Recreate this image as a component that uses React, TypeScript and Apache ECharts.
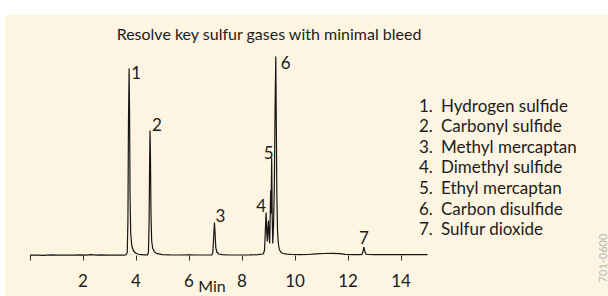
import React, { useEffect, useRef } from 'react';
import * as echarts from 'echarts';

// ---- data ----
const titleText = 'Resolve key sulfur gases with minimal bleed';
const axisTitle = 'Min';
const tickValues = [0, 2, 4, 6, 8, 10, 12, 14];
const tickLabelValues = [2, 4, 6, 8, 10, 12, 14];
const compoundNames = [
  'Hydrogen sulfide',
  'Carbonyl sulfide',
  'Methyl mercaptan',
  'Dimethyl sulfide',
  'Ethyl mercaptan',
  'Carbon disulfide',
  'Sulfur dioxide',
];
const peakIds = ['1', '2', '3', '4', '5', '6', '7'];
const peakTimes = [3.74, 4.53, 6.96, 8.91, 9.12, 9.275, 12.6];
const peakHeights = [187, 125, 33, 43, 98, 199, 8.5];
const catalogCode = '701-0600';

// detector signal: [minutes, response]
const signal: [number, number][] = [
  [0, 0.3], [0.3, 0.4], [0.5, 0.2], [0.8, 0.6], [1.0, 0.3], [1.3, 0.5], [1.6, 0.3],
  [1.9, 0.7], [2.1, 0.4], [2.3, 0.8], [2.5, 0.4], [2.7, 0.6], [2.9, 0.3], [3.2, 0.4],
  [3.5, 0.3],
  // peak 1
  [3.62, 0.6], [3.67, 3], [3.695, 35], [3.715, 130], [3.74, 187], [3.755, 150],
  [3.775, 60], [3.8, 22], [3.84, 10], [3.9, 5], [3.98, 2.5], [4.1, 1.2], [4.3, 0.6],
  // peak 2
  [4.43, 0.6], [4.47, 3], [4.495, 35], [4.515, 95], [4.53, 125], [4.545, 100],
  [4.565, 42], [4.59, 15], [4.63, 7], [4.7, 3.5], [4.8, 1.8], [5.0, 0.9], [5.3, 0.6],
  [5.6, 0.5], [6.0, 0.7], [6.3, 0.5], [6.6, 0.5],
  // peak 3
  [6.86, 0.6], [6.9, 3], [6.93, 18], [6.96, 33], [6.985, 22], [7.01, 8], [7.05, 3.5],
  [7.12, 1.5], [7.25, 0.8], [7.5, 0.5], [7.9, 0.5], [8.3, 0.6], [8.6, 0.8],
  // cluster 4, 5, 6
  [8.8, 1.5], [8.85, 5], [8.88, 25], [8.91, 43], [8.935, 22], [8.955, 14],
  [8.98, 28], [9.0, 35], [9.025, 18], [9.045, 12], [9.065, 40], [9.08, 65],
  [9.095, 42], [9.12, 98], [9.14, 40], [9.16, 12], [9.19, 30], [9.22, 70],
  [9.25, 150], [9.275, 199], [9.295, 130], [9.315, 60], [9.34, 25], [9.37, 12],
  [9.41, 6], [9.47, 3], [9.55, 2], [9.7, 1.3], [9.9, 1], [10.2, 0.8], [10.5, 1],
  [10.8, 1.6], [11.1, 2], [11.4, 2.2], [11.7, 1.8], [11.9, 1.2], [12.2, 0.8],
  [12.45, 0.9],
  // peak 7
  [12.53, 1.2], [12.57, 4.5], [12.6, 8.5], [12.63, 4.5], [12.67, 1.5], [12.75, 1],
  [13.0, 0.9], [13.4, 0.8], [13.8, 0.9], [14.2, 0.8], [14.6, 0.9], [15.0, 0.8],
];

// ---- styling (positions and sizes) ----
const FONT = 'Lato, "Open Sans", "Noto Sans", sans-serif';
const TEXT = '#1c1c1c';
const peakLabelOffsets: [number, number][] = [
  [7, 3.5], [7, -6], [6, -7], [-5, -7], [-3, -5], [10, 6], [0, -10],
];

export default function App() {
  const ref = useRef<HTMLDivElement>(null);

  useEffect(() => {
    if (!ref.current) return;
    const chart = echarts.init(ref.current, undefined, { renderer: 'svg' });

    const legendGraphics: any[] = [];
    compoundNames.forEach((name, i) => {
      const y = 105 + i * 20.6;
      legendGraphics.push({
        type: 'text', x: 419, y,
        style: { text: peakIds[i] + '.', font: `17px ${FONT}`, fill: TEXT, textVerticalAlign: 'middle' },
      });
      legendGraphics.push({
        type: 'text', x: 441, y,
        style: { text: name, font: `17px ${FONT}`, fill: TEXT, textVerticalAlign: 'middle' },
      });
    });

    chart.setOption({
      animation: false,
      grid: { left: 30, right: 180.5, top: 55.5, bottom: 40.5, containLabel: false },
      xAxis: {
        type: 'value',
        min: 0,
        max: 15,
        offset: 7,
        axisLine: { show: false },
        splitLine: { show: false },
        axisTick: { show: true, length: 5, customValues: tickValues, lineStyle: { color: '#333', width: 1 } },
        axisLabel: {
          customValues: tickLabelValues,
          fontSize: 17,
          fontFamily: FONT,
          color: TEXT,
          margin: 9,
        },
      },
      yAxis: {
        type: 'value',
        min: 0,
        max: 200,
        show: false,
      },
      graphic: [
        { type: 'rect', z: -10, shape: { x: 5, y: 15, width: 603, height: 281 }, style: { fill: '#fdf5e1' } },
        {
          type: 'text', x: 269, y: 33,
          style: { text: titleText, font: `16px ${FONT}`, fill: TEXT, textAlign: 'center', textVerticalAlign: 'middle' },
        },
        {
          type: 'text', x: 212, y: 285,
          style: { text: axisTitle, font: `16px ${FONT}`, fill: TEXT, textAlign: 'center', textVerticalAlign: 'middle' },
        },
        {
          type: 'text', x: 602, y: 258, rotation: Math.PI / 2,
          style: { text: catalogCode, font: `11px ${FONT}`, fill: '#b8b8b8', textAlign: 'center', textVerticalAlign: 'middle' },
        },
        ...legendGraphics,
      ],
      series: [
        {
          type: 'line',
          data: signal,
          showSymbol: false,
          symbol: 'none',
          lineStyle: { color: '#161616', width: 1.2 },
          z: 2,
        },
        {
          type: 'scatter',
          symbolSize: 0,
          z: 3,
          itemStyle: { color: TEXT, opacity: 1 },
          data: peakTimes.map((t, i) => ({
            value: [t, peakHeights[i]],
            name: peakIds[i],
            label: { offset: peakLabelOffsets[i] },
          })),
          label: {
            show: true,
            position: 'inside',
            formatter: (p: any) => p.name,
            fontSize: 17,
            fontFamily: FONT,
            color: TEXT,
            textBorderWidth: 0,
            textBorderColor: 'transparent',
            opacity: 1,
          },
        },
      ],
    });

    return () => chart.dispose();
  }, []);

  return (
    <div style={{ position: 'fixed', left: 0, top: 0, width: 608, height: 296, background: '#ffffff' }}>
      <div ref={ref} style={{ width: 608, height: 296 }} />
    </div>
  );
}
